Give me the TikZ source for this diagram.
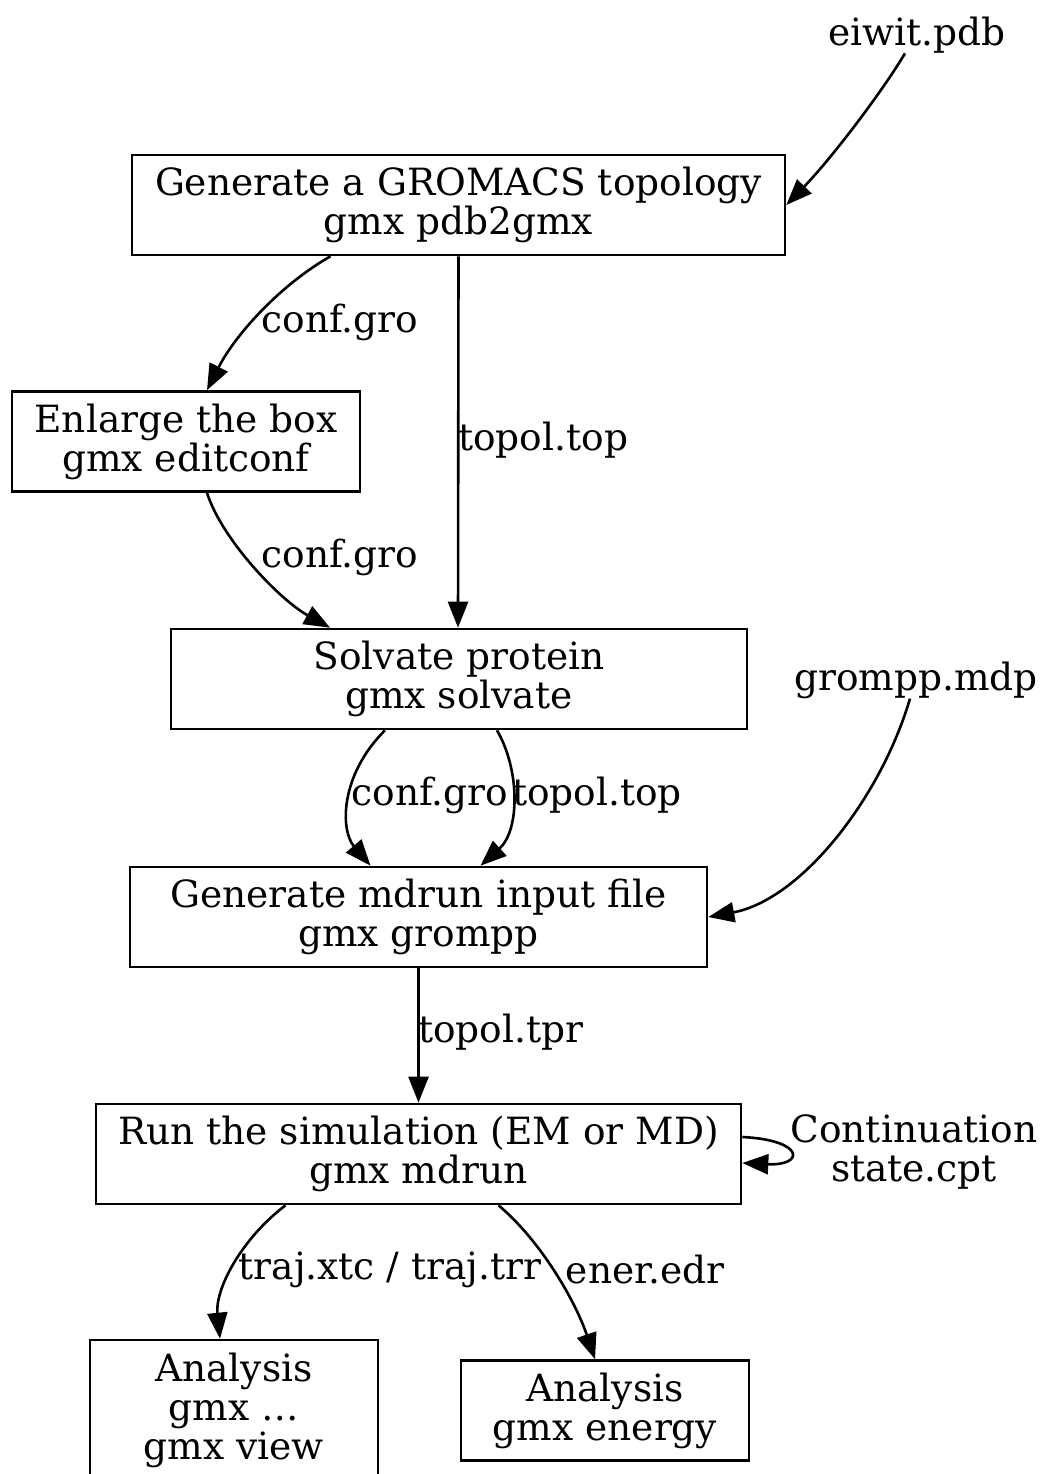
\documentclass[tikz,border=0pt]{standalone}
\usepackage{fontspec}
\setmainfont{DejaVu Serif}
\usetikzlibrary{arrows.meta}

\tikzset{
    stepbox/.style={draw, line width=2.6pt, align=center, inner sep=0pt, minimum height=100pt},
    filetext/.style={align=center, inner sep=0pt},
    arr/.style={line width=2.6pt, -{Triangle[length=26pt, width=20pt]}},
}

\begin{document}
\begin{tikzpicture}[x=1pt, y=-1pt, font=\fontsize{37.5}{39}\selectfont]
        \useasboundingbox (0, 0) rectangle (1039, 1474);

        % Input files
        \node[filetext] (pdb) at (917, 35) {eiwit.pdb};
        \node[filetext] (mdp) at (916, 680) {grompp.mdp};

        % Steps
        \node[stepbox, minimum width=653pt] (gen) at (458.5, 205) {Generate a GROMACS topology\\gmx pdb2gmx};
        \node[stepbox, minimum width=348pt] (edit) at (186, 441.5) {Enlarge the box\\gmx editconf};
        \node[stepbox, minimum width=576pt] (solv) at (459, 679) {Solvate protein\\gmx solvate};
        \node[stepbox, minimum width=577pt] (prep) at (418.5, 917) {Generate mdrun input file\\gmx grompp};
        \node[stepbox, minimum width=645pt] (run) at (418.5, 1154) {Run the simulation (EM or MD)\\gmx mdrun};
        \node[stepbox, minimum width=288pt, minimum height=140pt] (anatraj) at (234, 1410) {Analysis\\gmx \dots\\gmx view};
        \node[stepbox, minimum width=288pt] (anaener) at (605, 1410.5) {Analysis\\gmx energy};

        % Edges
        \draw[arr] ([xshift=-12pt]pdb.south) .. controls (880, 95) and (830, 160) .. (gen.east);
        \draw[arr] ([xshift=-128pt]gen.south) .. controls (280, 285) and (235, 335) .. ([xshift=21pt]edit.north);
        \draw[arr] (gen.south) -- ([xshift=-1pt]solv.north);
        \draw[arr] ([xshift=21pt]edit.south) .. controls (222, 540) and (280, 600) .. ([xshift=-129pt]solv.north);
        \draw[arr] ([xshift=-74pt]solv.south) .. controls (340, 775) and (340, 830) .. ([xshift=-48pt]prep.north);
        \draw[arr] ([xshift=38pt]solv.south) .. controls (520, 770) and (520, 830) .. ([xshift=62pt]prep.north);
        \draw[arr] ([xshift=-6pt]mdp.south) .. controls (880, 800) and (800, 900) .. (prep.east);
        \draw[arr] (prep.south) -- (run.north);
        \draw[arr] ([yshift=17pt]run.east) .. controls (805, 1140) and (805, 1166) .. ([yshift=-9pt]run.east);
        \draw[arr] ([xshift=-133pt]run.south) .. controls (240, 1240) and (215, 1290) .. ([xshift=-14pt]anatraj.north);
        \draw[arr] ([xshift=80pt]run.south) .. controls (540, 1240) and (575, 1300) .. ([xshift=-10pt]anaener.north);

        % Edge labels
        \node[filetext] (lconfa) at (340, 322) {conf.gro};
        \node[filetext, anchor=west] (ltopa) at (458, 440) {topol.top};
        \node[filetext] (lconfb) at (340, 557) {conf.gro};
        \node[filetext] (lconfc) at (430, 795) {conf.gro};
        \node[filetext] (ltopb) at (597, 795) {topol.top};
        \node[filetext, anchor=west] (ltpr) at (418, 1032) {topol.tpr};
        \node[filetext] (lcpt) at (914, 1152) {Continuation\\state.cpt};
        \node[filetext] (ltraj) at (390, 1270) {traj.xtc / traj.trr};
        \node[filetext] (lener) at (645, 1270) {ener.edr};

    \end{tikzpicture}
\end{document}
